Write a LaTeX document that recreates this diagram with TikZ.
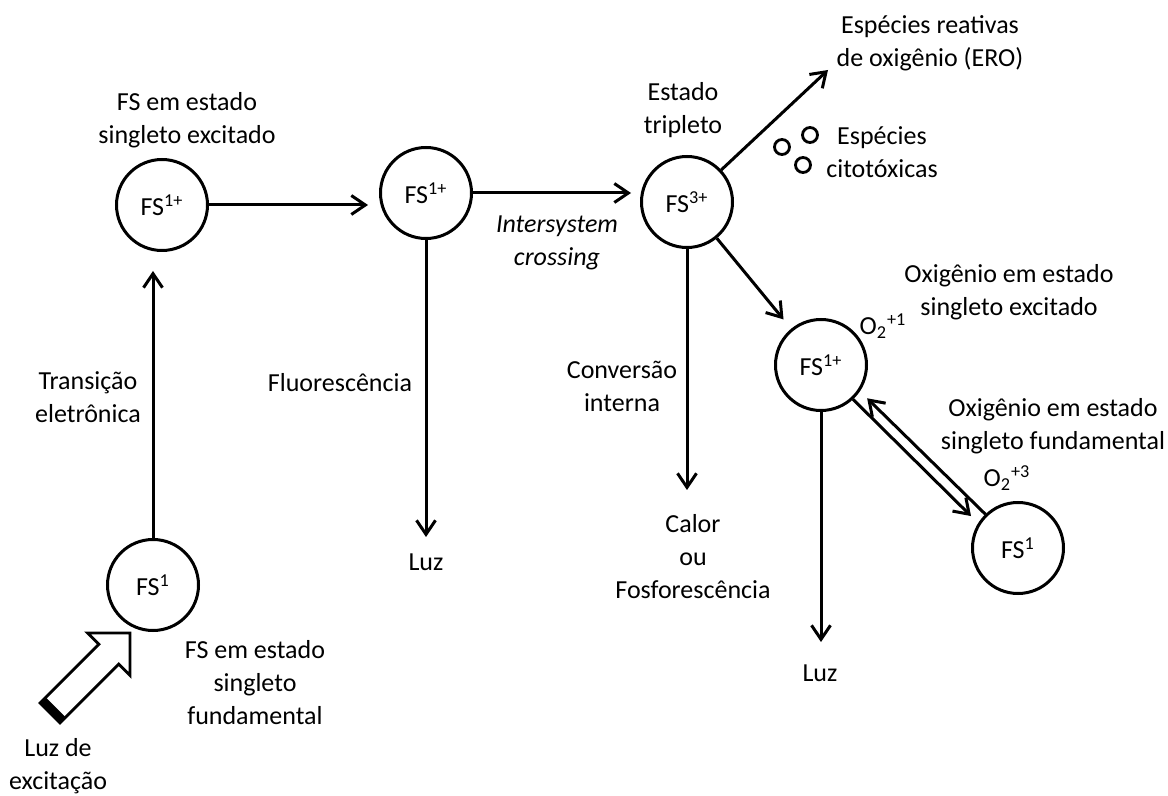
\documentclass[tikz,border=0pt]{standalone}
\usepackage{fontspec}
\setmainfont{Carlito}
\usetikzlibrary{arrows.meta,calc}
\begin{document}
\begin{tikzpicture}[x=0.5pt,y=-0.5pt,
  every node/.style={font=\fontsize{13}{16.5}\selectfont, inner sep=0pt, align=center},
  state/.style={circle, draw, line width=1.5pt, minimum size=45.5pt, inner sep=0pt},
  arr/.style={line width=1.5pt, -{Straight Barb[length=7pt,width=9.5pt,line width=1.5pt]}},
  dot/.style={circle, draw, line width=1.4pt, minimum size=7.5pt, inner sep=0pt},
  itl/.style={font=\fontsize{13}{16.5}\selectfont\itshape}
]
\useasboundingbox (0,0) rectangle (1168,796);

% states
\node[state] (fs1)  at (153,585)  {FS\textsuperscript{1}};
\node[state] (fs1p) at (162,205)  {FS\textsuperscript{1+}};
\node[state] (fs2)  at (426,193)  {FS\textsuperscript{1+}};
\node[state] (fs3)  at (687,202)  {FS\textsuperscript{3+}};
\node[state] (fs4)  at (821,365)  {FS\textsuperscript{1+}};
\node[state] (fs5)  at (1018,548) {FS\textsuperscript{1}};

% labels
\node (l1)  at (187,120)  {FS em estado\\singleto excitado};
\node (l2)  at (88,397)   {Transição\\eletrônica};
\node (l3)  at (255,683)  {FS em estado\\singleto\\fundamental};
\node (l4)  at (58,766)   {Luz de\\excitação};
\node (l5)  at (340,383)  {Fluorescência};
\node (l6)  at (426,562)  {Luz};
\node[itl] (l7) at (557,243) {Intersystem\\crossing};
\node (l8)  at (683,110)  {Estado\\tripleto};
\node (l9)  at (930,43)   {Espécies reativas\\de oxigênio (ERO)};
\node (l10) at (882,152)  {Espécies\\citotóxicas};
\node (l11) at (622,386)  {Conversão\\interna};
\node (l12) at (693,557)  {Calor\\ou\\Fosforescência};
\node (l13) at (820,673)  {Luz};
\node (l14) at (1009,292) {Oxigênio em estado\\singleto excitado};
\node (l15) at (1053,426) {Oxigênio em estado\\singleto fundamental};
\node (o1)  at (883,326)  {O\textsubscript{2}\textsuperscript{+1}};
\node (o3)  at (1007,478) {O\textsubscript{2}\textsuperscript{+3}};

% cytotoxic species
\node[dot] (d1) at (782,147) {};
\node[dot] (d2) at (810,135) {};
\node[dot] (d3) at (803,165) {};

% free arrow ends
\coordinate (t6)  at (426,537);
\coordinate (t9)  at (828,70);
\coordinate (t12) at (687,490);
\coordinate (t13) at (821,642);

% connectors
\draw[arr] (fs1.north) -- ($(fs1.north |- fs1p.south)+(0,19)$);
\draw[arr] (fs1p.east) -- ($(fs1p.east -| fs2.west)+(-11,0)$);
\draw[arr] (fs2.east) -- ($(fs2.east -| fs3.west)+(-9,0)$);
\draw[arr] (fs2.south) -- (t6);
\draw[arr] (fs3) -- (t9);
\draw[arr] (fs3.south) -- (t12);
\draw[arr, shorten >=6pt] (fs3) -- (fs4);
\draw[arr] (fs4.south) -- (t13);
\draw[arr, shorten >=5pt] (fs4.-47) -- (fs5.148);
\draw[arr, shorten >=5pt] (fs5.134) -- (fs4.-34);

% excitation light (hollow block arrow)
\draw[line width=1.4pt, fill=white, line join=miter]
  (130,633) -- (87.6,633) -- (98.9,644.3) -- (40.2,703) -- (60,722.8)
  -- (118.7,664.1) -- (130,675.4) -- cycle;
\fill (45.8,697.4) -- (40.2,703) -- (60,722.8) -- (65.6,717.2) -- cycle;
\end{tikzpicture}
\end{document}
